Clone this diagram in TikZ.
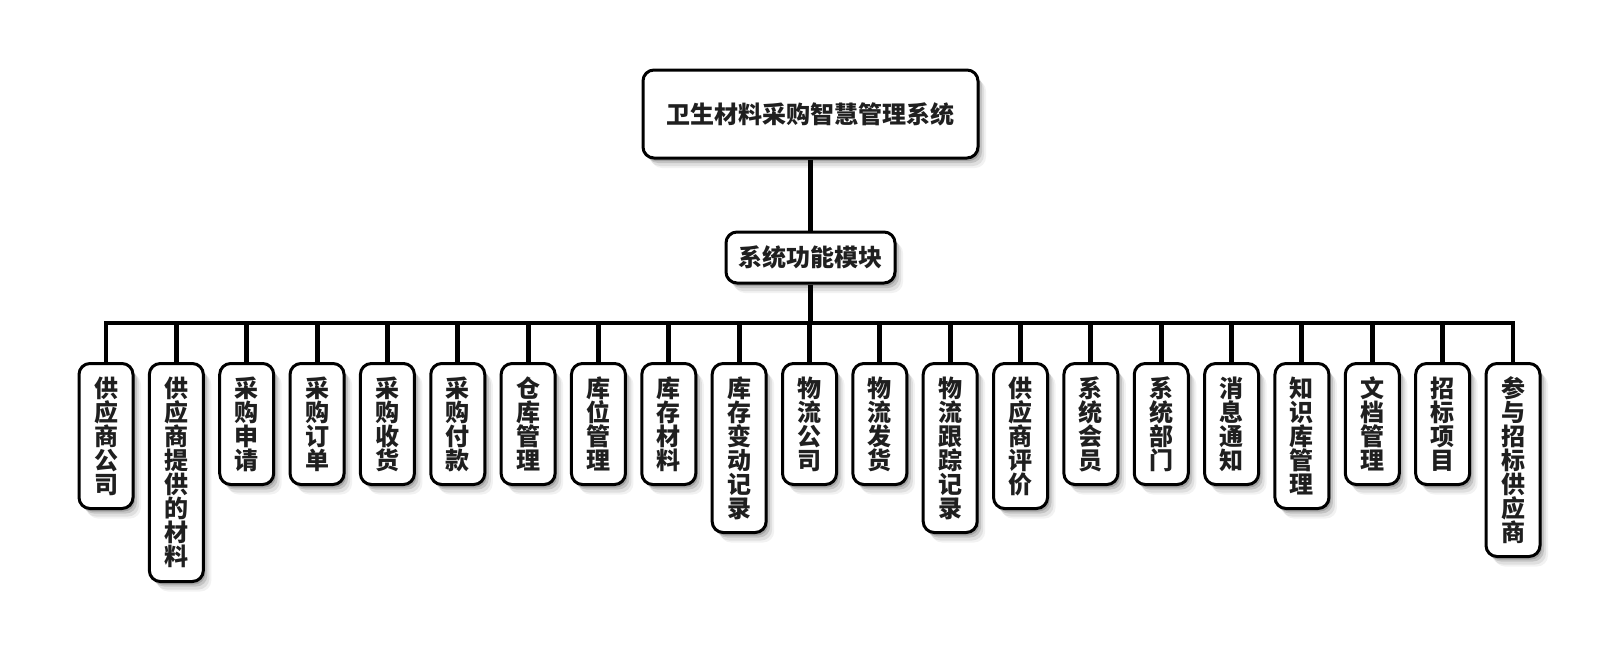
\documentclass[tikz,border=0pt]{standalone}
\usepackage{fontspec}
\newfontfamily\cjk{Noto Sans CJK SC}
\usetikzlibrary{shadows,backgrounds}
\tikzset{
  softshadow/.style={
    general shadow={shadow xshift=2pt,shadow yshift=-3pt,fill=black,opacity=.16},
    general shadow={shadow xshift=4pt,shadow yshift=-5pt,fill=black,opacity=.12},
    general shadow={shadow xshift=6pt,shadow yshift=-8pt,fill=black,opacity=.08},
    general shadow={shadow xshift=8pt,shadow yshift=-10pt,fill=black,opacity=.05}},
  box/.style={draw=black, line width=3pt, fill=white, rounded corners=11pt,
    inner sep=0pt, text=black!88, softshadow,
    font=\cjk\bfseries\fontsize{24}{24}\selectfont},
  leaf/.style={box, anchor=north, minimum width=54pt, align=center},
  conn/.style={line width=5pt, draw=black, line join=miter}
}
\begin{document}
\begin{tikzpicture}[x=1pt,y=-1pt]
\useasboundingbox (0,0) rectangle (1620,656);
\node[box, minimum width=335pt, minimum height=88pt] (top) at (810.5,114) {卫生材料采购智慧管理系统};
\node[box, minimum width=169pt, minimum height=51pt] (mid) at (810.5,257.5) {系统功能模块};
\coordinate (bus) at (0,323);
\foreach \i/\t/\h in {
  0/{供\\应\\商\\公\\司}/145,
  1/{供\\应\\商\\提\\供\\的\\材\\料}/218,
  2/{采\\购\\申\\请}/121,
  3/{采\\购\\订\\单}/121,
  4/{采\\购\\收\\货}/121,
  5/{采\\购\\付\\款}/121,
  6/{仓\\库\\管\\理}/121,
  7/{库\\位\\管\\理}/121,
  8/{库\\存\\材\\料}/121,
  9/{库\\存\\变\\动\\记\\录}/169,
  10/{物\\流\\公\\司}/121,
  11/{物\\流\\发\\货}/121,
  12/{物\\流\\跟\\踪\\记\\录}/169,
  13/{供\\应\\商\\评\\价}/145,
  14/{系\\统\\会\\员}/121,
  15/{系\\统\\部\\门}/121,
  16/{消\\息\\通\\知}/121,
  17/{知\\识\\库\\管\\理}/145,
  18/{文\\档\\管\\理}/121,
  19/{招\\标\\项\\目}/121,
  20/{参\\与\\招\\标\\供\\应\\商}/193}
{
  \node[leaf, minimum height=\h pt] (L\i) at ({106+70.35*\i},362) {\t};
}
\begin{scope}[on background layer]
  \draw[conn] (top.south) -- (mid.north);
  \draw[conn] (mid.south) -- (mid.south |- bus);
  \draw[conn, line width=4.5pt] (L0.north) -- (L0.north |- bus) -- (L20.north |- bus) -- (L20.north);
  \foreach \i in {1,...,19} {
    \draw[conn] (L\i.north) -- (L\i.north |- bus);
  }
\end{scope}
\end{tikzpicture}
\end{document}
